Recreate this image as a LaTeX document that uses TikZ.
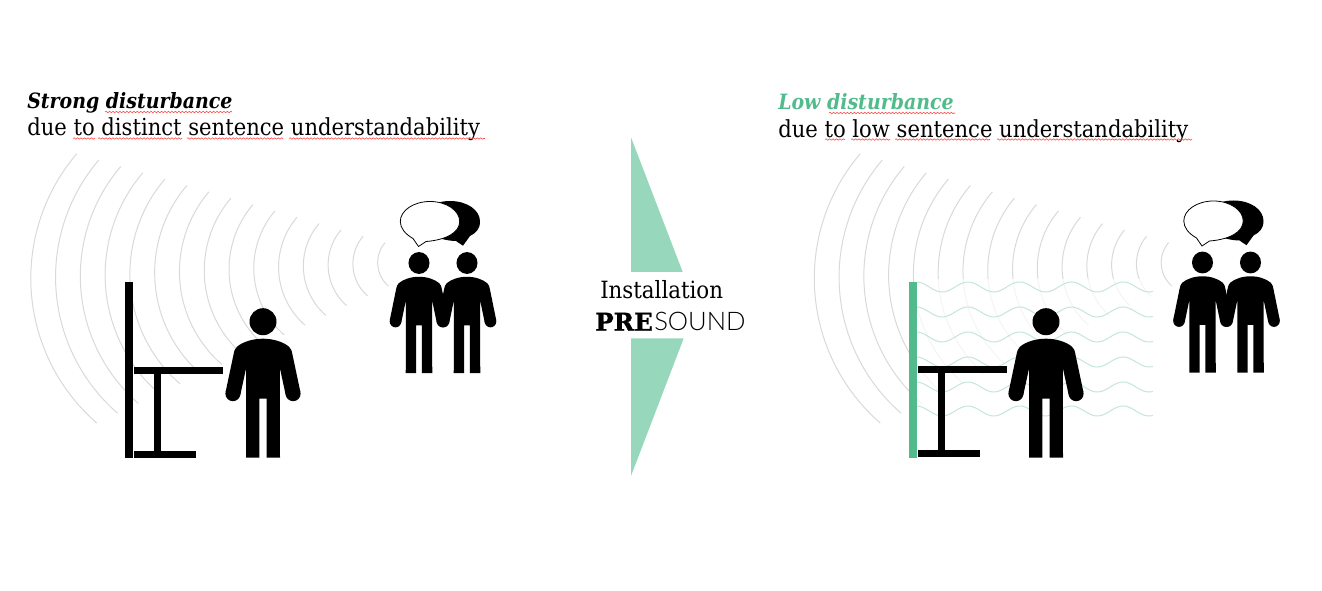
\documentclass[tikz,border=0pt]{standalone}
\usepackage{fontspec}
\usetikzlibrary{decorations.pathmorphing}
\newfontfamily\headfont{DejaVu Serif Condensed}
\newfontfamily\presoundfont[BoldFeatures={FakeBold=1.2}]{DejaVu Serif}
\newfontfamily\soundfont{Lato Light}
\definecolor{presgreen}{HTML}{52BB8C}
\definecolor{trigreen}{HTML}{97D7BB}
\definecolor{wavegreen}{HTML}{C4E6DA}
\definecolor{arcgrey}{HTML}{D9D9D9}
\tikzset{
  soundarc/.style={draw=arcgrey,line width=.75pt},
  wave/.style={draw=wavegreen,line width=.75pt},
  squiggle/.style={draw=red!70!white,line width=.45pt,decorate,decoration={snake,amplitude=.55pt,segment length=2.6pt}},
  headtext/.style={anchor=base west,inner sep=0pt,font=\headfont\fontsize{17.6}{17.6}\selectfont},
  boldhead/.style={anchor=base west,inner sep=0pt,font=\headfont\bfseries\itshape\fontsize{15.8}{15.8}\selectfont},
  person/.pic={
    \fill (0,0) circle [radius=13.5];
    \fill (30.1,72) circle [radius=7.5];
    \fill (-30.1,72) circle [radius=7.5];
    \fill (0,17) .. controls (10,17) and (20,20) .. (26,25) .. controls (28,27) and (28.8,29) .. (29.5,33)
      -- (37.4,70.3) -- (22.8,73.7)
      -- (16.8,46) -- (17,136) -- (3.7,136) -- (3.7,77) -- (-3.7,77) -- (-3.7,136) -- (-17,136) -- (-16.8,46)
      -- (-22.8,73.7) -- (-37.4,70.3) -- (-29.5,33)
      .. controls (-28.8,29) and (-28,27) .. (-26,25) .. controls (-20,20) and (-10,17) .. (0,17) -- cycle;
  },
  furniture/.pic={
    \fill (9,85) rectangle (98,92);
    \fill (28.5,92) rectangle (36,169);
    \fill (9,169) rectangle (71,176);
  },
  talkers/.pic={
    \fill[black] (463,245.7) -- (456,241) .. controls (445,241) and (420,235) .. (420,221.5)
      .. controls (420,210) and (433,201) .. (450,201)
      .. controls (467,201) and (480,210) .. (480,221.5)
      .. controls (480,229) and (476,233) .. (470,236) -- cycle;
    \filldraw[fill=white,draw=black,line width=.6pt] (418.5,246.5) -- (413,238.5)
      .. controls (405,234) and (400.3,228) .. (400.3,221.5)
      .. controls (400.3,210.5) and (413.6,201.5) .. (430,201.5)
      .. controls (446.4,201.5) and (459.7,210.5) .. (459.7,221.5)
      .. controls (459.7,232.5) and (446,240) .. (426,241.5) -- cycle;
    \pic[xscale=.78,yscale=.81] at (419,263) {person};
    \pic[xscale=.78,yscale=.81] at (467,263) {person};
  }
}
\newcommand\soundarcs{%
  \foreach \i in {0,...,14}{
    \pgfmathsetmacro\cxx{408.6-13.29*\i}
    \pgfmathsetmacro\cyy{262.7+1.114*\i}
    \pgfmathsetmacro\rad{30.9+11.49*\i}
    \draw[soundarc] plot[domain=131:220.5,samples=40,smooth] ({\cxx+\rad*cos(\x)},{\cyy+\rad*sin(\x)});
  }%
}
\begin{document}
\begin{tikzpicture}[x=.75pt,y=-.75pt]
\useasboundingbox (0,0) rectangle (1322,591);
% left panel
\soundarcs
\fill (125,282) rectangle (133,458);
\pic at (125,282) {furniture};
\pic at (263,321.7) {person};
\pic at (0,0) {talkers};
% right panel
\begin{scope}[shift={(783.5,0)}]
  \soundarcs
\end{scope}
\fill[white,opacity=.72] (917,279) rectangle (1154,418);
\foreach \c in {287,312,337,362,387,411}{
  \draw[wave] plot[domain=917:1153,samples=120,smooth] (\x,{\c-5*cos(6.963*(\x-968))});
}
\fill[presgreen] (909,282) rectangle (917,458);
\pic at (909,281.5) {furniture};
\pic at (1046,321.7) {person};
\pic at (783.5,-.5) {talkers};
% centre
\fill[trigreen] (631,137.3) -- (682.7,272) -- (631,272) -- cycle;
\fill[trigreen] (631,338.3) -- (683.7,338.3) -- (631,476) -- cycle;
\node[anchor=base west,inner sep=0pt,font=\headfont\fontsize{17.8}{17.8}\selectfont] (inst) at (600,298.5) {Installation};
\node[anchor=base west,inner sep=0pt,font=\presoundfont\bfseries\fontsize{18.4}{18.4}\selectfont] (pre) at (595,330.7) {PRE};
\node[anchor=base west,inner sep=0pt,font=\soundfont\fontsize{19.2}{19.2}\selectfont] (sound) at (654,330.7) {SOUND};
% headings
\node[boldhead] (h1) at (27,109) {Strong disturbance};
\node[headtext] (s1) at (27,136) {due to distinct sentence understandability};
\node[boldhead,text=presgreen] (h2) at (778,110) {Low disturbance};
\node[headtext] (s2) at (778,137.5) {due to low sentence understandability};
% spell-check underlines
\foreach \a/\b/\y in {105/232/112,73/95/138.5,98/182/138.5,187/283/138.5,289/485/138.5,829/955/113,825/845/139.5,851/890/139.5,895/990/139.5,997/1192/139.5}{
  \draw[squiggle] (\a,\y) -- (\b,\y);
}
\end{tikzpicture}
\end{document}
